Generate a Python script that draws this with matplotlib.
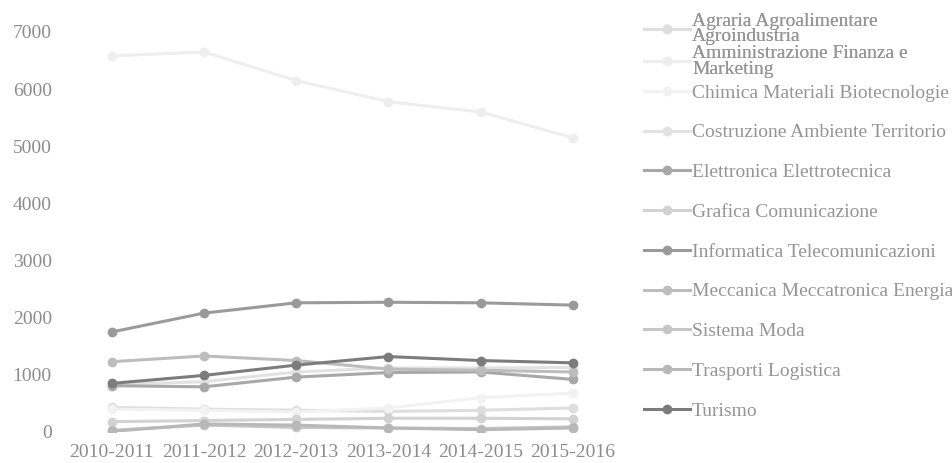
import matplotlib.pyplot as plt

plt.rcParams['font.family'] = ['Liberation Serif', 'DejaVu Serif']

# Data
anni = ['2010-2011', '2011-2012', '2012-2013', '2013-2014', '2014-2015', '2015-2016']

indirizzi = ['Agraria Agroalimentare\nAgroindustria',
             'Amministrazione Finanza e\nMarketing',
             'Chimica Materiali Biotecnologie',
             'Costruzione Ambiente Territorio',
             'Elettronica Elettrotecnica',
             'Grafica Comunicazione',
             'Informatica Telecomunicazioni',
             'Meccanica Meccatronica Energia',
             'Sistema Moda',
             'Trasporti Logistica',
             'Turismo']

agraria = [430, 400, 380, 360, 380, 420]
amministrazione = [6580, 6650, 6150, 5780, 5600, 5150]
chimica = [400, 380, 350, 420, 600, 680]
costruzione = [830, 880, 1050, 1120, 1120, 1130]
elettronica = [810, 790, 960, 1040, 1050, 920]
grafica = [180, 200, 220, 240, 240, 230]
informatica = [1750, 2080, 2260, 2270, 2260, 2220]
meccanica = [1230, 1330, 1250, 1100, 1080, 1050]
moda = [30, 120, 80, 70, 60, 90]
trasporti = [10, 140, 120, 70, 40, 70]
turismo = [850, 990, 1170, 1320, 1250, 1210]

serie = [agraria, amministrazione, chimica, costruzione, elettronica, grafica,
         informatica, meccanica, moda, trasporti, turismo]

# washed-out grays of the scan
colori = ['#dedede', '#eeeeee', '#f2f2f2', '#e2e2e2', '#a8a8a8', '#d2d2d2',
          '#9a9a9a', '#bdbdbd', '#c6c6c6', '#b8b8b8', '#7c7c7c']

fig = plt.figure(figsize=(9.52, 4.63), dpi=100)
ax = fig.add_axes([0.069, 0.067, 0.581, 0.864])

x = list(range(len(anni)))
linee = []
for valori, col in zip(serie, colori):
    l, = ax.plot(x, valori, color=col, lw=2.2, marker='o', markersize=6,
                 markerfacecolor=col, markeredgecolor=col)
    linee.append(l)

ax.set_xlim(-0.5, 5.5)
ax.set_ylim(0, 7000)
ax.set_yticks(range(0, 7001, 1000))
ax.set_xticks(x)
ax.set_xticklabels(anni)
ax.tick_params(axis='both', length=0, labelsize=14, colors='#8c8c8c')
ax.tick_params(axis='y', pad=10)
ax.tick_params(axis='x', pad=9)
for s in ax.spines.values():
    s.set_visible(False)

# legend split in two: the wrapped entries are packed tighter
leg1 = fig.legend(linee[:2], indirizzi[:2], loc='upper left',
                  bbox_to_anchor=(0.676, 0.9726), frameon=False, fontsize=14,
                  handlelength=2.4, handletextpad=0.1, labelspacing=0.0,
                  borderaxespad=0, borderpad=0.0, labelcolor='#959595')
for t in leg1.get_texts():
    t.set_linespacing(0.9)
leg2 = fig.legend(linee[2:], indirizzi[2:], loc='upper left',
                  bbox_to_anchor=(0.676, 0.8186), frameon=False, fontsize=14,
                  handlelength=2.4, handletextpad=0.1, labelspacing=1.14,
                  borderaxespad=0, borderpad=0.0, labelcolor='#959595')
fig.add_artist(leg1)

fig.savefig('out.png', dpi=100)
